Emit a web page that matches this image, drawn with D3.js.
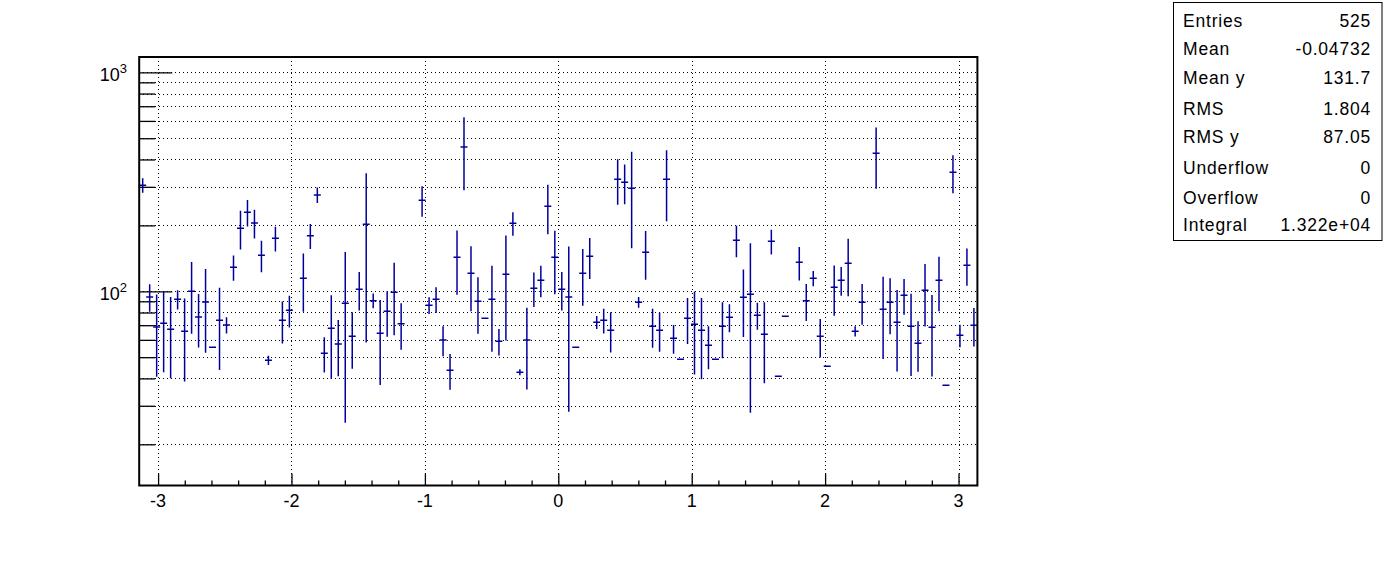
<!DOCTYPE html>
<html>
<head>
<meta charset="utf-8">
<script src="https://cdn.jsdelivr.net/npm/d3@7"></script>
<style>
  html, body { margin: 0; padding: 0; background: #fff; }
  svg { display: block; font-family: "Liberation Sans", Arial, Helvetica, sans-serif; }
</style>
</head>
<body>
<svg id="chart" width="1396" height="572"></svg>
<script>
// ---- data (TProfile, 120 bins over [-pi, pi]; null = empty bin) ----
const nBins = 120;
const xMin = -Math.PI, xMax = Math.PI;
const means = [
  305, 94.2, 68.7, 71.4, 67.1, 91.9, 65.7, 100, 76.3, 89.4,
  55.5, 73.7, 70.2, 128.7, 194.0, 229.5, 205.0, 146.0, 48.4, 174.6,
  73.7, 81.9, null, 114.7, 179.4, 275.3, 52.1, 67.8, 57.4, 88.1,
  62.3, 102.1, 202.3, 90.6, 64.3, 81.0, 98.9, 71.1, null, null,
  260.4, 86.3, 91.9, 59.9, 43.6, 143.0, 456.0, 120.8, 90.0, 75.3,
  91.9, 59.1, 119.6, 204.4, 42.7, 59.9, 103.2, 112.3, 244.4, 143.0,
  102.1, 94.2, 55.5, 120.8, 144.5, 72.2, 73.7, 66.4, 324.6, 314.6,
  295.3, 89.1, 150.7, 69.2, 66.4, 324.6, 61.0, 48.9, 75.3, 70.7,
  66.4, 56.7, 48.9, 69.2, 76.1, 171.0, 93.9, 96.9, 77.7, 63.6,
  169.2, 40.9, 76.9, null, 135.6, 90.6, 114.7, 62.3, 45.5, 104.3,
  112.3, 134.2, 65.7, 89.1, null, 426.7, 82.8, 89.1, 72.2, 95.9,
  69.2, 57.9, 101.1, 68.5, 112.3, 37.2, 349.4, 62.9, 131.4, 69.9
];
const errors = [
  23, 13.5, 28, 28.7, 27, 9.3, 27, 36, 21, 37,
  0, 30, 6, 17, 39, 32, 31, 24, 2.4, 22.5,
  16, 13.5, null, 34, 23.5, 22.5, 9.5, 28, 16.5, 63,
  18, 20.5, 144, 7, 27, 19, 36, 17, null, null,
  41.5, 7.6, 12.4, 9.4, 8.1, 46.5, 167, 39.7, 26, 0,
  39, 8.2, 60, 25, 1.4, 24.3, 18.5, 18.5, 62, 46,
  20.3, 66, 0, 35, 30.7, 4.9, 9.6, 13.9, 76, 65,
  138, 5, 37.7, 14, 13.4, 116, 9.2, 0, 17.8, 29,
  26.8, 12.6, 0, 19.8, 11.1, 28, 32, 69, 11, 25.6,
  21.8, 0, 0, null, 23.7, 17.5, 9.2, 12.4, 0, 27,
  16.8, 39.4, 3.5, 18.8, null, 133, 33.7, 25.5, 29.2, 17.8,
  28.2, 15, 32, 27.7, 31.3, 0, 68.7, 7.4, 25.5, 14
];
const xTickValues = [-3, -2, -1, 0, 1, 2, 3];
const xTickLabels = ["-3", "-2", "-1", "0", "1", "2", "3"];
const yMajorTicks = [100, 1000];
const yMajorExp = ["2", "3"];
const yMinorTicks = [20, 30, 40, 50, 60, 70, 80, 90, 200, 300, 400, 500, 600, 700, 800, 900];
const statsNames = ["Entries", "Mean", "Mean y", "RMS", "RMS y", "Underflow", "Overflow", "Integral"];
const statsValues = ["525", "-0.04732", "131.7", "1.804", "87.05", "0", "0", "1.322e+04"];

// ---- layout ----
const frame = { left: 139.2, right: 977.4, top: 57, bottom: 485.5 };
const yDomain = [12.97, 1175];
const markColor = "#00009c";

const svg = d3.select("#chart");
const x = d3.scaleLinear().domain([xMin, xMax]).range([frame.left, frame.right]);
const y = d3.scaleLog().domain(yDomain).range([frame.bottom, frame.top]);
const binW = (xMax - xMin) / nBins;

// clip
svg.append("defs").append("clipPath").attr("id", "plotclip")
  .append("rect").attr("x", frame.left).attr("y", frame.top)
  .attr("width", frame.right - frame.left).attr("height", frame.bottom - frame.top);

// grid
const grid = svg.append("g").attr("stroke", "#000").attr("stroke-width", 1)
  .attr("stroke-dasharray", "1,3").attr("shape-rendering", "crispEdges");
grid.selectAll("line.gx").data(xTickValues).join("line")
  .attr("x1", d => Math.round(x(d)) + 0.5).attr("x2", d => Math.round(x(d)) + 0.5)
  .attr("y1", frame.top).attr("y2", frame.bottom);
grid.selectAll("line.gy").data(yMajorTicks.concat(yMinorTicks)).join("line")
  .attr("x1", frame.left).attr("x2", frame.right)
  .attr("y1", d => Math.round(y(d)) + 0.5).attr("y2", d => Math.round(y(d)) + 0.5);

// y axis ticks (inward)
const yAxisG = svg.append("g").attr("transform", `translate(${frame.left},0)`);
yAxisG.call(d3.axisRight(y).tickValues(yMajorTicks).tickSize(33).tickFormat(""));
yAxisG.append("g").call(d3.axisRight(y).tickValues(yMinorTicks).tickSize(16).tickFormat(""));
yAxisG.selectAll(".domain").remove();
yAxisG.selectAll("line").attr("stroke", "#000").attr("stroke-width", 1.3);

// x axis ticks (inward, up)
const xAxisG = svg.append("g").attr("transform", `translate(0,${frame.bottom})`);
xAxisG.call(d3.axisTop(x).tickValues(xTickValues).tickSize(12).tickFormat(""));
const minorX = d3.range(-30, 31, 2).map(v => v / 10).filter(v => Math.abs(v - Math.round(v)) > 1e-6);
xAxisG.append("g").call(d3.axisTop(x).tickValues(minorX).tickSize(5).tickFormat(""));
xAxisG.selectAll(".domain").remove();
xAxisG.selectAll("line").attr("stroke", "#000").attr("stroke-width", 1.3);

// x labels
svg.append("g").selectAll("text").data(xTickValues).join("text")
  .attr("x", d => x(d)).attr("y", 507)
  .attr("text-anchor", "middle").attr("font-size", 18).attr("fill", "#000")
  .text((d, i) => xTickLabels[i]);

// y labels 10^n
const yl = svg.append("g").selectAll("text").data(yMajorTicks).join("text")
  .attr("x", 127).attr("y", d => y(d) + 9)
  .attr("text-anchor", "end").attr("font-size", 18).attr("fill", "#000");
yl.append("tspan").text("10");
yl.append("tspan").attr("dy", -8).attr("font-size", 13).text((d, i) => yMajorExp[i]);

// data points
const pts = means.map((m, i) => ({ i, m, e: errors[i] })).filter(d => d.m !== null);
const dg = svg.append("g").attr("clip-path", "url(#plotclip)")
  .attr("stroke", markColor).attr("stroke-width", 1.5).attr("fill", "none");
dg.selectAll("line.h").data(pts).join("line")
  .attr("x1", d => x(xMin + d.i * binW)).attr("x2", d => x(xMin + (d.i + 1) * binW))
  .attr("y1", d => y(d.m)).attr("y2", d => y(d.m));
dg.selectAll("line.v").data(pts.filter(d => d.e > 0)).join("line")
  .attr("x1", d => x(xMin + (d.i + 0.5) * binW)).attr("x2", d => x(xMin + (d.i + 0.5) * binW))
  .attr("y1", d => y(d.m + d.e))
  .attr("y2", d => (d.m - d.e) > yDomain[0] * 0.5 ? y(d.m - d.e) : frame.bottom + 5);

// frame
svg.append("rect").attr("x", frame.left).attr("y", frame.top)
  .attr("width", frame.right - frame.left).attr("height", frame.bottom - frame.top)
  .attr("fill", "none").attr("stroke", "#000").attr("stroke-width", 2);

// stats box
const sb = { x: 1173.5, y: 2.5, w: 208.5, h: 238 };
const statsBaselines = [27, 55, 84, 115, 143, 174, 204, 231];
const sg = svg.append("g");
sg.append("rect").attr("x", sb.x).attr("y", sb.y).attr("width", sb.w).attr("height", sb.h)
  .attr("fill", "#fff").attr("stroke", "#000").attr("stroke-width", 1);
sg.selectAll("text.n").data(statsNames).join("text")
  .attr("x", 1183).attr("y", (d, i) => statsBaselines[i])
  .attr("font-size", 17.5).attr("letter-spacing", 0.8).attr("fill", "#000").text(d => d);
sg.selectAll("text.v").data(statsValues).join("text")
  .attr("x", 1371).attr("y", (d, i) => statsBaselines[i]).attr("text-anchor", "end")
  .attr("font-size", 17.5).attr("letter-spacing", 0.8).attr("fill", "#000").text(d => d);
</script>
</body>
</html>
